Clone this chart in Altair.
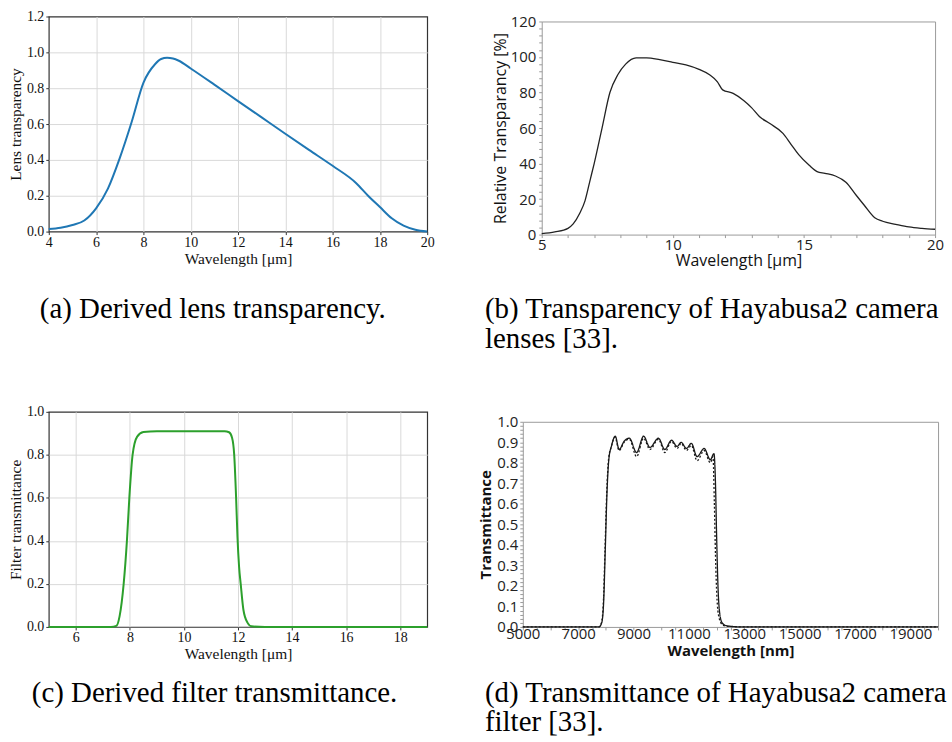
import altair as alt
import pandas as pd

# ---------------- data ----------------
# (a) derived lens transparency
lens_wl = [4, 4.5, 5, 5.5, 6, 6.5, 7, 7.5, 8, 8.5, 8.75, 9, 9.25, 9.5, 10, 11, 12, 13, 14, 15, 16, 17, 17.5, 18, 18.5, 19, 19.5, 20]
lens_tr = [0.015, 0.022, 0.037, 0.062, 0.13, 0.24, 0.41, 0.61, 0.83, 0.935, 0.963, 0.97, 0.966, 0.953, 0.91, 0.82, 0.728, 0.637, 0.546, 0.456, 0.367, 0.27, 0.2, 0.137, 0.074, 0.033, 0.01, 0.0]

# (b) Hayabusa2 lens transparency [%]
hb_wl = [5, 5.5, 6, 6.2, 6.45, 6.65, 6.85, 7.0, 7.3, 7.6, 7.9, 8.2, 8.6, 9, 9.5, 10, 10.5, 11, 11.4, 11.7, 11.9, 12.3, 12.7, 13, 13.3, 13.7, 14.2, 14.5, 14.8, 15.2, 15.5, 15.8, 16.2, 16.6, 17, 17.3, 17.7, 18, 18.5, 19, 19.5, 20]
hb_tr = [0.5, 1.5, 3.5, 6, 12, 19, 31, 40, 60, 80, 90, 96, 99.5, 99.5, 98.5, 97, 95.5, 93, 90, 86, 81.5, 79.5, 75.5, 71.5, 66.5, 62.5, 57, 51, 45, 39, 35.5, 34.5, 33, 29.5, 22, 16.5, 9.5, 7.5, 5.8, 4.3, 3.5, 3]

# (c) derived filter transmittance
filt_wl = [5, 7.3, 7.5, 7.62, 7.77, 7.89, 7.98, 8.1, 8.27, 8.5, 9, 10, 11, 11.5, 11.67, 11.78, 11.86, 11.93, 11.98, 12.04, 12.1, 12.2, 12.35, 12.5, 13, 19]
filt_tr = [0, 0, 0.005, 0.05, 0.2, 0.4, 0.6, 0.8, 0.885, 0.906, 0.91, 0.91, 0.91, 0.91, 0.905, 0.88, 0.8, 0.6, 0.42, 0.28, 0.2, 0.08, 0.02, 0.003, 0, 0]

# (d) Hayabusa2 filter transmittance, two measurements
d_solid_wl = [5000, 7750, 7850, 7920, 7980, 8040, 8110, 8200, 8340, 8480, 8660, 8850, 9110, 9365, 9590, 9900, 10130, 10370, 10575, 10720, 10910, 11090, 11295, 11550, 11775, 11905, 11960, 12000, 12050, 12110, 12200, 12350, 12600, 13000, 20000]
d_solid_tr = [0, 0, 0.02, 0.12, 0.38, 0.65, 0.82, 0.88, 0.93, 0.865, 0.905, 0.92, 0.85, 0.93, 0.875, 0.92, 0.865, 0.91, 0.88, 0.90, 0.87, 0.895, 0.83, 0.87, 0.815, 0.845, 0.7, 0.45, 0.2, 0.07, 0.02, 0.006, 0.002, 0, 0]
d_dot_wl = [5000, 7750, 7840, 7910, 7970, 8030, 8100, 8200, 8330, 8480, 8660, 8850, 9110, 9365, 9590, 9900, 10130, 10370, 10575, 10720, 10910, 11090, 11295, 11550, 11775, 11870, 11920, 11960, 12010, 12080, 12200, 12350, 12600, 13000, 20000]
d_dot_tr = [0, 0, 0.02, 0.12, 0.38, 0.65, 0.82, 0.88, 0.925, 0.86, 0.9, 0.915, 0.83, 0.92, 0.865, 0.915, 0.85, 0.905, 0.87, 0.895, 0.86, 0.885, 0.81, 0.86, 0.80, 0.83, 0.6, 0.35, 0.15, 0.05, 0.012, 0.004, 0.001, 0, 0]

# tick values
a_xticks = [4, 6, 8, 10, 12, 14, 16, 18, 20]
a_yticks = [0.0, 0.2, 0.4, 0.6, 0.8, 1.0, 1.2]
b_xticks = list(range(5, 21))
b_yticks = list(range(0, 121, 4))
c_xticks = [6, 8, 10, 12, 14, 16, 18]
c_yticks = [0.0, 0.2, 0.4, 0.6, 0.8, 1.0]
d_xticks = list(range(5000, 20001, 500))
d_yticks = [round(i * 0.02, 2) for i in range(51)]

captions = [
    "(a) Derived lens transparency.",
    "(b) Transparency of Hayabusa2 camera\nlenses [33].",
    "(c) Derived filter transmittance.",
    "(d) Transmittance of Hayabusa2 camera\nfilter [33].",
]

SERIF = "Liberation Serif"
SANS = "Open Sans"


def anchor(x1, x2, y1, y2):
    # invisible rectangle that fixes the extent of each figure cell
    return alt.Chart(pd.DataFrame({"k": [0]})).mark_rect(opacity=0).encode(
        x=alt.value(x1), x2=alt.value(x2), y=alt.value(y1), y2=alt.value(y2)
    )


def spacer():
    return anchor(0, 0, 0, 0).properties(
        width=1, height=1,
        view=alt.ViewBackground(stroke="transparent", strokeOpacity=0, strokeWidth=0, fill="transparent"),
    )


def caption(text, x, y):
    return alt.Chart(pd.DataFrame({"t": [text]})).mark_text(
        align="left", baseline="alphabetic", font=SERIF, fontSize=29,
        color="#000000", lineBreak="\n", lineHeight=30,
    ).encode(text="t:N", x=alt.value(x), y=alt.value(y))


def grid_cond(lo, hi):
    return {
        "condition": {"test": f"datum.value === {lo} || datum.value === {hi}", "value": "transparent"},
        "value": "#d9d9d9",
    }


def mpl_axis(values, fmt, title, lo, hi, is_y):
    return alt.Axis(
        values=values, format=fmt, title=title,
        titleFont=SERIF, titleFontSize=15.5, titleFontWeight="normal", titleColor="#111111",
        titlePadding=3 if is_y else 2,
        labelFont=SERIF, labelFontSize=14, labelColor="#111111",
        labelPadding=2 if is_y else 1, labelFlush=False, labelOverlap=False,
        tickSize=3, tickColor="#333333", domain=False,
        grid=True, gridColor=grid_cond(lo, hi), gridWidth=1,
    )


# ---------------- panel (a) ----------------
df_a = pd.DataFrame({"x": lens_wl, "y": lens_tr})
line_a = alt.Chart(df_a).mark_line(color="#1f77b4", strokeWidth=2, interpolate="monotone").encode(
    x=alt.X("x:Q", scale=alt.Scale(domain=[4, 20], nice=False, zero=False),
            axis=mpl_axis(a_xticks, "d", "Wavelength [μm]", 4, 20, False)),
    y=alt.Y("y:Q", scale=alt.Scale(domain=[0, 1.2], nice=False),
            axis=mpl_axis(a_yticks, ".1f", "Lens transparency", 0, 1.2, True)),
)
panel_a = alt.layer(line_a, caption(captions[0], -9, 303), anchor(-48, 414, -13, 351)).properties(
    width=380, height=216, view=alt.ViewBackground(stroke="#333333", strokeWidth=1.2)
)

# ---------------- panel (c) ----------------
df_c = pd.DataFrame({"x": filt_wl, "y": filt_tr})
line_c = alt.Chart(df_c).mark_line(color="#2ca02c", strokeWidth=2, interpolate="monotone").encode(
    x=alt.X("x:Q", scale=alt.Scale(domain=[5, 19], nice=False, zero=False),
            axis=mpl_axis(c_xticks, "d", "Wavelength [μm]", 5, 19, False)),
    y=alt.Y("y:Q", scale=alt.Scale(domain=[0, 1], nice=False),
            axis=mpl_axis(c_yticks, ".1f", "Filter transmittance", 0, 1, True)),
)
panel_c = alt.layer(line_c, caption(captions[2], -17, 291), anchor(-48, 414, -44, 333)).properties(
    width=380, height=216, view=alt.ViewBackground(stroke="#333333", strokeWidth=1.2)
)


def sans_axis(values, label_expr, title, bold, lp, tp, title_size):
    return alt.Axis(
        values=values, labelExpr=label_expr, title=title,
        titleFont=SANS, titleFontSize=title_size, titleFontWeight="bold" if bold else "normal",
        titleColor="#111111", titlePadding=tp,
        labelFont=SANS, labelFontSize=15, labelColor="#222222",
        labelPadding=lp, labelFlush=False, labelOverlap=False,
        tickSize=3, tickColor="#9a9a9a", domain=False, grid=False,
    )


# ---------------- panel (b) ----------------
df_b = pd.DataFrame({"x": hb_wl, "y": hb_tr})
line_b = alt.Chart(df_b).mark_line(color="#222222", strokeWidth=1.3, interpolate="monotone").encode(
    x=alt.X("x:Q", scale=alt.Scale(domain=[5, 20], nice=False, zero=False),
            axis=sans_axis(b_xticks, "datum.value % 5 === 0 ? datum.label : ''",
                           "Wavelength [μm]", False, 0, 0, 16)),
    y=alt.Y("y:Q", scale=alt.Scale(domain=[0, 120], nice=False),
            axis=sans_axis(b_yticks, "datum.value % 20 === 0 ? datum.label : ''",
                           "Relative Transparancy [%]", False, 3, 2, 16)),
)
panel_b = alt.layer(line_b, caption(captions[1], -57, 298), anchor(-79, 411, -18, 346)).properties(
    width=395, height=214, view=alt.ViewBackground(stroke="#9a9a9a", strokeWidth=1)
)

# ---------------- panel (d) ----------------
df_d = pd.concat([
    pd.DataFrame({"x": d_solid_wl, "y": d_solid_tr, "s": "solid"}),
    pd.DataFrame({"x": d_dot_wl, "y": d_dot_tr, "s": "dotted"}),
])
line_d = alt.Chart(df_d).mark_line(color="#1a1a1a", strokeWidth=1.3, interpolate="monotone").encode(
    x=alt.X("x:Q", scale=alt.Scale(domain=[5000, 20000], nice=False, zero=False),
            axis=sans_axis(d_xticks,
                           "(datum.value - 5000) % 2000 === 0 && datum.value < 20000 ? format(datum.value, 'd') : ''",
                           "Wavelength [nm]", True, -3, 2, 15)),
    y=alt.Y("y:Q", scale=alt.Scale(domain=[0, 1], nice=False),
            axis=sans_axis(d_yticks,
                           "round(datum.value * 100) % 10 === 0 ? format(datum.value, '.1f') : ''",
                           "Transmittance", True, 2, 3, 15)),
    strokeDash=alt.StrokeDash("s:N", scale=alt.Scale(domain=["solid", "dotted"], range=[[1, 0], [2, 2]]), legend=None),
    detail="s:N",
)
panel_d = alt.layer(line_d, caption(captions[3], -38, 281), anchor(-60, 430, -49, 323)).properties(
    width=417, height=206, view=alt.ViewBackground(stroke="#9a9a9a", strokeWidth=1)
)

chart = alt.concat(
    spacer(), spacer(), panel_a, panel_b, panel_c, panel_d,
    columns=2, spacing=0, bounds="full", align="none",
).properties(padding=0, background="white")

chart.save("out.html", embed_options={"renderer": "svg", "actions": False})
